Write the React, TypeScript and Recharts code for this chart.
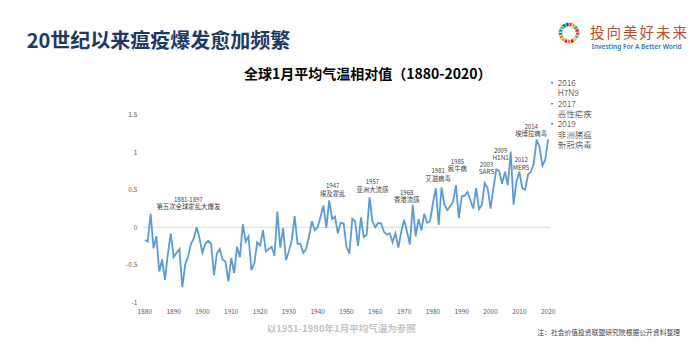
import React from "react";
import { LineChart, Line, XAxis, YAxis, ReferenceLine, ReferenceDot, PieChart, Pie, Cell } from "recharts";

// ---------- data ----------
const firstYear = 1880;
const tempAnomaly: number[] = [
  -0.17, -0.19, 0.18, -0.28, -0.12, -0.59, -0.43, -0.7, -0.35, -0.08, // 1880-1889
  -0.4, -0.34, -0.29, -0.8, -0.5, -0.39, -0.22, -0.15, 0.0, -0.15, // 1890-1899
  -0.34, -0.22, -0.18, -0.22, -0.64, -0.35, -0.29, -0.43, -0.46, -0.72, // 1900-1909
  -0.41, -0.61, -0.26, -0.4, 0.04, -0.19, -0.12, -0.57, -0.48, -0.2, // 1910-1919
  -0.24, -0.04, -0.32, -0.29, -0.26, -0.38, 0.21, -0.27, -0.01, -0.44, // 1920-1929
  -0.32, -0.17, 0.15, -0.22, -0.22, -0.34, -0.29, -0.12, 0.08, -0.04, // 1930-1939
  0.0, 0.14, 0.29, -0.01, 0.36, 0.11, 0.14, -0.08, 0.06, 0.05, // 1940-1949
  -0.26, -0.35, 0.11, 0.08, -0.25, 0.13, -0.13, -0.1, 0.4, 0.08, // 1950-1959
  0.0, 0.06, 0.05, -0.06, -0.1, -0.08, -0.2, -0.08, -0.27, -0.06, // 1960-1969
  0.1, -0.06, -0.23, 0.3, -0.12, 0.11, -0.04, 0.18, 0.06, 0.08, // 1970-1979
  0.32, 0.52, 0.03, 0.53, 0.3, 0.23, 0.28, 0.34, 0.56, 0.12, // 1980-1989
  0.41, 0.42, 0.47, 0.36, 0.25, 0.52, 0.24, 0.3, 0.59, 0.52, // 1990-1999
  0.25, 0.52, 0.77, 0.75, 0.58, 0.74, 0.56, 1.01, 0.3, 0.61, // 2000-2009
  0.74, 0.52, 0.5, 0.7, 0.74, 0.85, 1.17, 1.07, 0.82, 0.9, // 2010-2019
  1.17, // 2020
];
const xTicks = [1880, 1890, 1900, 1910, 1920, 1930, 1940, 1950, 1960, 1970, 1980, 1990, 2000, 2010, 2020];
const yTicks = [-1, -0.5, 0, 0.5, 1, 1.5];

const annotYears = [1895.1, 1945.2, 1959.0, 1970.9, 1981.8, 1988.5, 1998.6, 2003.5, 2010.6, 2014.1];
const annotValues = [0.372, 0.553, 0.606, 0.465, 0.753, 0.882, 0.838, 1.028, 0.904, 1.347];
const annotTop = ["1881-1897", "1947", "1957", "1968", "1981", "1985", "2003", "2009", "2012", "2014"];
const annotBottom = ["第五次全球霍乱大爆发", "埃及霍乱", "亚洲大流感", "香港流感", "艾滋病毒", "疯牛病", "SARS", "H1N1", "MERS", "埃博拉病毒"];

const legendYears = ["2016", "2017", "2019"];
const legendNames = [["H7N9"], ["恶性疟疾"], ["非洲猪瘟", "新冠病毒"]];

const sdgColors = [
  "#E5243B", "#DDA63A", "#4C9F38", "#C5192D", "#FF3A21", "#26BDE2", "#FCC30B", "#A21942", "#FD6925",
  "#DD1367", "#FD9D24", "#BF8B2E", "#3F7E44", "#0A97D9", "#56C02B", "#00689D", "#19486A",
];
const sdgSegments = sdgColors.map(() => 1);

const chartData = tempAnomaly.map((v, i) => ({ year: firstYear + i, value: v }));
const sdgData = sdgSegments.map((v, i) => ({ name: String(i + 1), value: v }));

const FONT = "'Noto Sans CJK SC', 'Noto Sans', sans-serif";

const AnnotShape = (idx: number) => (props: any) => {
  const { cx, cy } = props;
  return (
    <g>
      <text x={cx} y={cy} textAnchor="middle" dominantBaseline="central" fontSize={6} fill="#404040" fontFamily={FONT}>
        {annotTop[idx]}
      </text>
      <text x={cx} y={cy + 7.6} textAnchor="middle" dominantBaseline="central" fontSize={6.4} fill="#404040" fontFamily={FONT}>
        {annotBottom[idx]}
      </text>
    </g>
  );
};

export default function App() {
  const abs = (left: number, top: number, extra: React.CSSProperties = {}): React.CSSProperties => ({
    position: "absolute",
    left,
    top,
    whiteSpace: "nowrap",
    fontFamily: FONT,
    ...extra,
  });
  // legend rows (one per text line)
  const legendRows: { text: string; bullet: boolean }[] = [];
  legendYears.forEach((y, i) => {
    legendRows.push({ text: y, bullet: true });
    legendNames[i].forEach((n) => legendRows.push({ text: n, bullet: false }));
  });
  return (
    <div style={{ position: "absolute", left: 0, top: 0, width: 692, height: 357, background: "#ffffff", overflow: "hidden", fontFamily: FONT }}>
      <div style={abs(26.7, 29, { fontSize: 20, fontWeight: 700, color: "#203864", lineHeight: "22px" })}>
        20世纪以来瘟疫爆发愈加频繁
      </div>

      {/* logo */}
      <div style={{ position: "absolute", left: 557.3, top: 21.3 }}>
        <PieChart width={24} height={24} margin={{ top: 0, right: 0, bottom: 0, left: 0 }}>
          <Pie data={sdgData} dataKey="value" cx={12} cy={12} innerRadius={6.5} outerRadius={10.5} startAngle={90} endAngle={-270} stroke="#ffffff" strokeWidth={0.6} isAnimationActive={false}>
            {sdgData.map((d, i) => (
              <Cell key={d.name} fill={sdgColors[i]} />
            ))}
          </Pie>
        </PieChart>
      </div>
      <div style={abs(590, 23, { fontSize: 14.5, color: "#b5502f", lineHeight: "18px", letterSpacing: 2 })}>投向美好未来</div>
      <div style={abs(591.5, 42.5, { fontSize: 6.5, color: "#2e75b6", fontWeight: 600, lineHeight: "8px", fontFamily: "'Noto Sans', sans-serif" })}>
        Investing For A Better World
      </div>

      <div style={abs(244, 65.3, { fontSize: 14, fontWeight: 700, color: "#000000", lineHeight: "16px" })}>
        全球1月平均气温相对值（1880-2020）
      </div>

      {/* legend-like list */}
      {legendRows.map((row, i) => (
        <React.Fragment key={row.text}>
          {row.bullet && (
            <div style={abs(548.5, 78 + i * 10.3, { fontSize: 7, color: "#262626", lineHeight: "8px" })}>•</div>
          )}
          <div style={abs(557.7, 78 + i * 10.3, { fontSize: 8.5, color: "#262626", lineHeight: "9px", fontWeight: 300 })}>
            {row.text}
          </div>
        </React.Fragment>
      ))}

      <div style={{ position: "absolute", left: 0, top: 0 }}>
        <LineChart width={692} height={357} data={chartData} margin={{ top: 114.7, right: 142.4, bottom: 34.7, left: 113.4 }}>
          <XAxis
            dataKey="year"
            type="number"
            domain={[1879.5, 2020.5]}
            ticks={xTicks}
            axisLine={false}
            tickLine={false}
            tickSize={5}
            height={20}
            interval={0}
            tick={{ fontSize: 6.5, fill: "#595959", fontFamily: FONT }}
          />
          <YAxis
            type="number"
            domain={[-1, 1.5]}
            ticks={yTicks}
            axisLine={false}
            tickLine={false}
            tickSize={4}
            width={30}
            interval={0}
            tick={{ fontSize: 6.5, fill: "#595959", fontFamily: FONT }}
          />
          <ReferenceLine y={0} stroke="#d9d9d9" strokeWidth={1} />
          <Line type="linear" dataKey="value" stroke="#5B9BD5" strokeWidth={1.8} dot={false} isAnimationActive={false} />
          {annotYears.map((yr, i) => (
            <ReferenceDot key={annotTop[i]} x={yr} y={annotValues[i]} r={1} shape={AnnotShape(i)} ifOverflow="visible" />
          ))}
        </LineChart>
      </div>

      <div style={abs(266.7, 322.3, { fontSize: 9.5, fontWeight: 700, color: "#c4c4c4", lineHeight: "12px" })}>
        以1951-1980年1月平均气温为参照
      </div>
      <div style={abs(537.3, 328, { fontSize: 6.8, color: "#404040", lineHeight: "8.6px" })}>
        注：社会价值投资联盟研究院根据公开资料整理
      </div>
    </div>
  );
}
